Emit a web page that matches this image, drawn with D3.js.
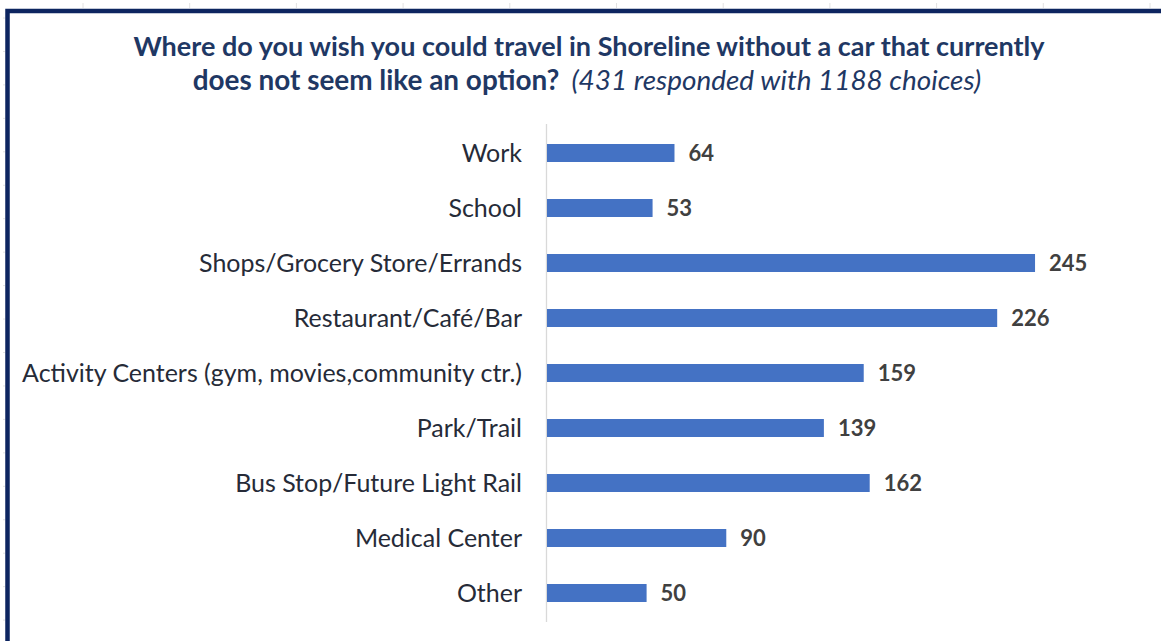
<!DOCTYPE html>
<html>
<head>
<meta charset="utf-8">
<script src="https://cdn.jsdelivr.net/npm/d3@7"></script>
<style>
  body { margin: 0; background: #fff; }
  svg { display: block; }
</style>
</head>
<body>
<svg width="1161" height="641"></svg>
<script>
var categories = ["Work", "School", "Shops/Grocery Store/Errands", "Restaurant/Café/Bar",
  "Activity Centers (gym, movies,community ctr.)", "Park/Trail", "Bus Stop/Future Light Rail",
  "Medical Center", "Other"];
var counts = [64, 53, 245, 226, 159, 139, 162, 90, 50];
var titleLine1 = "Where do you wish you could travel in Shoreline without a car that currently";
var titleLine2Bold = "does not seem like an option?";
var titleLine2Note = "(431 responded with 1188 choices)";

var svg = d3.select("svg"),
    width = +svg.attr("width"),
    height = +svg.attr("height");
var font = "Lato, 'Open Sans', sans-serif";

svg.append("rect").attr("width", width).attr("height", height).attr("fill", "#fff");

// faint spreadsheet gridlines peeking outside the frame
svg.append("g").selectAll("line")
  .data(d3.range(83, width, 106.7))
  .enter().append("line")
  .attr("x1", function(d) { return d; }).attr("x2", function(d) { return d; })
  .attr("y1", 3).attr("y2", 8)
  .attr("stroke", "#e2e2e2").attr("stroke-width", 1);
svg.append("g").selectAll("line")
  .data(d3.range(18, height, 33.45))
  .enter().append("line")
  .attr("x1", 3).attr("x2", 5)
  .attr("y1", function(d) { return d; }).attr("y2", function(d) { return d; })
  .attr("stroke", "#e2e2e2").attr("stroke-width", 1);

// frame (left + top)
svg.append("path")
  .attr("d", "M7.5," + height + "V11H" + width)
  .attr("fill", "none").attr("stroke", "#0d2560").attr("stroke-width", 4.5);

var x = d3.scaleLinear().domain([0, 250]).range([547, 1045]);
var y = d3.scaleBand().domain(categories).range([125.5, 620.5])
  .paddingInner(0.673).paddingOuter(0.3365);

function fit(sel, target) {
  var w = sel.node().getComputedTextLength();
  var fs = parseFloat(sel.attr("font-size"));
  sel.attr("font-size", fs * target / w);
  return fs * target / w;
}

// title
var t1 = svg.append("text")
  .attr("x", 589).attr("y", 56)
  .attr("text-anchor", "middle")
  .attr("font-family", font).attr("font-weight", "bold")
  .attr("font-size", 22).attr("fill", "#1f3864")
  .text(titleLine1);
fit(t1, 912);

var t2 = svg.append("text")
  .attr("x", 587).attr("y", 90)
  .attr("text-anchor", "middle")
  .attr("font-family", font)
  .attr("font-size", 22).attr("fill", "#1f3864");
t2.append("tspan").attr("font-weight", "bold").text(titleLine2Bold);
t2.append("tspan").attr("font-style", "italic").attr("dx", 12).text(titleLine2Note);
fit(t2, 777);

// axis line
svg.append("line")
  .attr("x1", x(0) - 0.5).attr("x2", x(0) - 0.5)
  .attr("y1", 124).attr("y2", 622)
  .attr("stroke", "#d9d9d9").attr("stroke-width", 1.3);

// bars
svg.append("g").selectAll("rect")
  .data(counts)
  .enter().append("rect")
  .attr("x", x(0))
  .attr("y", function(d, i) { return y(categories[i]); })
  .attr("width", function(d) { return x(d) - x(0); })
  .attr("height", y.bandwidth())
  .attr("fill", "#4472c4");

// category labels
var labels = svg.append("g")
  .attr("font-family", font).attr("font-size", 20).attr("fill", "#262b38")
  .attr("text-anchor", "end");
labels.selectAll("text")
  .data(categories)
  .enter().append("text")
  .attr("x", 522)
  .attr("y", function(d) { return y(d) + y.bandwidth() / 2; })
  .attr("dy", "0.35em")
  .text(function(d) { return d; });
var longest = labels.selectAll("text").filter(function(d, i) { return i === 4; });
var w = longest.node().getComputedTextLength();
labels.attr("font-size", 20 * 500 / w);

// value labels
svg.append("g")
  .attr("font-family", font).attr("font-size", 22).attr("font-weight", "bold")
  .attr("fill", "#404040")
  .selectAll("text")
  .data(counts)
  .enter().append("text")
  .attr("x", function(d) { return x(d) + 14; })
  .attr("y", function(d, i) { return y(categories[i]) + y.bandwidth() / 2; })
  .attr("dy", "0.36em")
  .text(function(d) { return d; });
</script>
</body>
</html>
